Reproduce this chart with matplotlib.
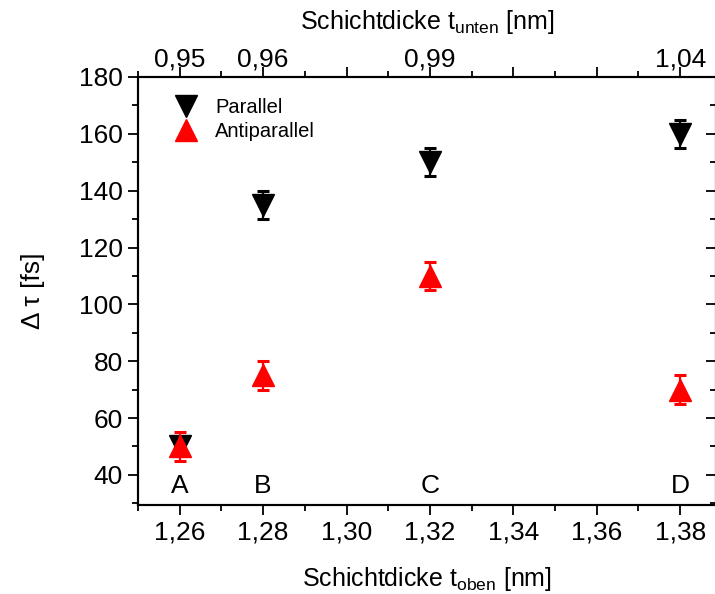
import matplotlib
matplotlib.use("Agg")
import matplotlib.pyplot as plt
from matplotlib.lines import Line2D
from matplotlib.ticker import MultipleLocator, FixedLocator, FixedFormatter

plt.rcParams['font.family'] = ['Liberation Sans', 'DejaVu Sans']
plt.rcParams['mathtext.fontset'] = 'custom'
plt.rcParams['mathtext.rm'] = 'Liberation Sans'
plt.rcParams['mathtext.it'] = 'Liberation Sans'

# Sample thickness (top layer) and labels
t_oben = [1.26, 1.28, 1.32, 1.38]
samples = ['A', 'B', 'C', 'D']
t_unten_labels = ['0,95', '0,96', '', '0,99', '', '', '1,04']
top_tick_pos = [1.26, 1.28, 1.30, 1.32, 1.34, 1.36, 1.38]

# Delay values and errors
parallel = [50, 135, 150, 160]
parallel_err = [3, 5, 5, 5]
antiparallel = [50, 75, 110, 70]
antiparallel_err = [5, 5, 5, 5]

W, H = 715, 594
fig = plt.figure(figsize=(W / 100, H / 100), dpi=100)
ax = fig.add_axes([138 / W, 1 - 505 / H, (716 - 138) / W, (505 - 77) / H])

fs_tick = 19
fs_label = 18
ms = 15.5

ax.errorbar(t_oben, parallel, yerr=parallel_err, fmt='v', color='black',
            markersize=ms, elinewidth=1.6, capsize=4, capthick=2.2, zorder=3)
ax.errorbar(t_oben, antiparallel, yerr=antiparallel_err, fmt='^', color='red',
            markersize=ms, elinewidth=1.6, capsize=4, capthick=2.2, zorder=4)

for x, s in zip(t_oben, samples):
    ax.text(x, 36.0, s, ha='center', va='center', fontsize=fs_tick)

ax.set_xlim(1.25, 1.3886)
ax.set_ylim(29.4, 180)

ax.xaxis.set_major_locator(MultipleLocator(0.02))
ax.xaxis.set_minor_locator(MultipleLocator(0.01))
ax.xaxis.set_major_formatter(plt.FuncFormatter(lambda v, p: f"{v:.2f}".replace('.', ',')))
ax.yaxis.set_major_locator(MultipleLocator(20))
ax.yaxis.set_minor_locator(MultipleLocator(10))

ax.tick_params(axis='both', which='major', direction='out', length=7, width=1.3,
               labelsize=fs_tick, pad=4)
ax.tick_params(axis='both', which='minor', direction='out', length=4, width=1.3)
ax.tick_params(axis='y', which='both', right=True, labelright=False)
for t in ax.yaxis.get_major_ticks():
    t.tick2line.set_marker(matplotlib.lines.TICKLEFT)
for t in ax.yaxis.get_minor_ticks():
    t.tick2line.set_marker(matplotlib.lines.TICKLEFT)

for sp in ax.spines.values():
    sp.set_linewidth(1.5)

ax.set_xlabel('Schichtdicke t$_{\\mathrm{oben}}$ [nm]', fontsize=fs_label, labelpad=15)
ax.set_ylabel('Δ τ [fs]', fontsize=fs_label + 1, labelpad=24)

# Secondary top axis labelling the bottom-layer thickness
top = ax.twiny()
top.set_xlim(ax.get_xlim())
top.xaxis.set_major_locator(FixedLocator(top_tick_pos))
top.xaxis.set_major_formatter(FixedFormatter(t_unten_labels))
top.xaxis.set_minor_locator(MultipleLocator(0.01))
top.tick_params(axis='x', which='major', direction='out', length=7, width=1.3,
                labelsize=fs_tick, pad=-3)
top.tick_params(axis='x', which='minor', direction='out', length=4, width=1.3)
top.set_xlabel('Schichtdicke t$_{\\mathrm{unten}}$ [nm]', fontsize=fs_label, labelpad=13)
for sp in top.spines.values():
    sp.set_linewidth(1.5)

handles = [Line2D([], [], marker='v', color='black', linestyle='none', markersize=ms),
           Line2D([], [], marker='^', color='red', linestyle='none', markersize=ms)]
ax.legend(handles, ['Parallel', 'Antiparallel'], loc='upper left', frameon=False,
          fontsize=14.5, handletextpad=0.95, labelspacing=0.25,
          bbox_to_anchor=(0.045, 0.98), handlelength=1.0, borderaxespad=0.2)

fig.savefig('out.png', dpi=100)
